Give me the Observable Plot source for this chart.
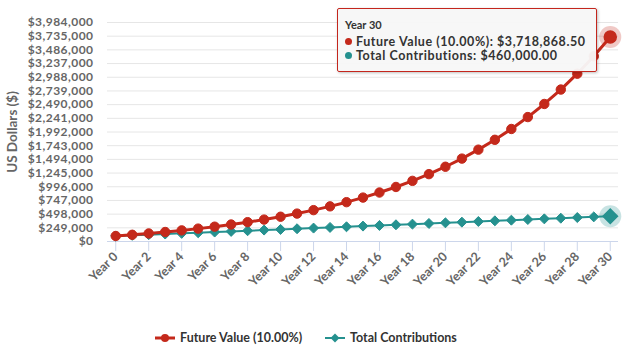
<!DOCTYPE html>
<html>
<head>
<meta charset="utf-8">
<script src="https://cdn.jsdelivr.net/npm/d3@7"></script>
<script src="https://cdn.jsdelivr.net/npm/@observablehq/plot@0.6"></script>
<style>
  html, body { margin: 0; padding: 0; background: #fff; }
  #wrap { position: relative; width: 625px; height: 348px; font-family: Lato, "Open Sans", sans-serif; overflow: hidden; }
  #tip { position: absolute; left: 337px; top: 8px; width: 258px; height: 62px; border: 1px solid #c4261d; background: rgba(247,247,247,0.96); box-shadow: 1px 1px 3px rgba(0,0,0,0.25); border-radius: 2px; color: #333; font-weight: bold; }
  #tip .h { position: absolute; left: 7px; top: 10px; font-size: 11px; line-height: 12px; }
  #tip .r { position: absolute; left: 7px; font-size: 12.5px; line-height: 13px; letter-spacing: 0.55px; white-space: nowrap; }
  #tip .dot { display: inline-block; width: 7px; height: 7px; border-radius: 50%; margin-right: 4px; vertical-align: 1px; }
  #legend { position: absolute; top: 330px; left: 0; width: 625px; font-size: 12.5px; font-weight: bold; color: #333; }
  #legend .item { position: absolute; top: 0; white-space: nowrap; }
  #legend svg { vertical-align: -2px; margin-right: 4px; }
</style>
</head>
<body>
<div id="wrap"></div>
<script>
const years = d3.range(0, 31);
const futureValue = [100000, 122000, 146200, 172820, 202102, 234312.2, 269743.42, 308717.76, 351589.54, 398748.49, 450623.34, 507685.68, 570454.24, 639499.67, 715449.63, 798994.60, 890894.06, 991983.46, 1103181.81, 1225499.99, 1360049.99, 1508054.99, 1670860.49, 1849946.54, 2046941.19, 2263635.31, 2501998.84, 2764198.72, 3052618.59, 3369880.45, 3718868.50];
const contributions = [100000, 112000, 124000, 136000, 148000, 160000, 172000, 184000, 196000, 208000, 220000, 232000, 244000, 256000, 268000, 280000, 292000, 304000, 316000, 328000, 340000, 352000, 364000, 376000, 388000, 400000, 412000, 424000, 436000, 448000, 460000];
const yTicks = d3.range(0, 17).map(i => i * 249000);
const xTicks = d3.range(0, 31, 2);
const seriesNames = ["Future Value (10.00%)", "Total Contributions"];
const colors = ["#c4291b", "#25918f"];

const fv = years.map((y, i) => ({year: y, value: futureValue[i]}));
const tc = years.map((y, i) => ({year: y, value: contributions[i]}));
const last = years.length - 1;

const fmt = d3.format("$,.0f");
const wrap = document.getElementById("wrap");

const chart = Plot.plot({
  width: 625,
  height: 310,
  marginLeft: 107,
  marginRight: 7,
  marginTop: 22,
  marginBottom: 69,
  style: {fontFamily: "Lato, 'Open Sans', sans-serif", fontSize: "12px", fontWeight: "bold", color: "#666", background: "transparent"},
  x: {domain: [-0.5, 30.5], label: null},
  y: {domain: [0, 3984000], label: null},
  marks: [
    Plot.gridY(yTicks, {stroke: "#e6e6e6", strokeOpacity: 1}),
    Plot.axisX({ticks: xTicks, tickFormat: d => "Year " + d, tickRotate: -45, tickSize: 10, tickPadding: 3, stroke: "#ccd6eb", fill: "#666", fontWeight: "bold", fontSize: 12.5, label: null}),
    Plot.ruleY([0], {stroke: "#ccd6eb"}),
    Plot.axisY({ticks: yTicks, tickFormat: fmt, tickSize: 0, tickPadding: 14, fill: "#666", fontWeight: "bold", fontSize: 12, label: "US Dollars ($)", labelAnchor: "center", labelArrow: "none", labelOffset: 100}),
    Plot.dot([fv[last]], {x: "year", y: "value", r: 11, fill: colors[0], fillOpacity: 0.25}),
    Plot.dot([tc[last]], {x: "year", y: "value", r: 11, fill: colors[1], fillOpacity: 0.25}),
    Plot.line(tc, {x: "year", y: "value", stroke: colors[1], strokeWidth: 2}),
    Plot.dot(tc.slice(0, last), {x: "year", y: "value", symbol: "diamond2", r: 4.5, fill: colors[1], stroke: colors[1], strokeWidth: 1}),
    Plot.dot([tc[last]], {x: "year", y: "value", symbol: "diamond2", r: 6.5, fill: colors[1], stroke: colors[1]}),
    Plot.line(fv, {x: "year", y: "value", stroke: colors[0], strokeWidth: 3}),
    Plot.dot(fv.slice(0, last), {x: "year", y: "value", r: 4.7, fill: colors[0], stroke: colors[0], strokeWidth: 1}),
    Plot.dot([fv[last]], {x: "year", y: "value", r: 6, fill: colors[0], stroke: colors[0]})
  ]
});
wrap.appendChild(chart);
chart.style.position = "absolute";
chart.style.left = "0px";
chart.style.top = "0px";
chart.querySelectorAll("[aria-label='y-axis tick label'] text").forEach(t => t.style.letterSpacing = "0.45px");
chart.querySelectorAll("[aria-label='y-axis label']").forEach(t => { t.setAttribute("font-size", "13.5"); t.setAttribute("fill", "#666"); });

const tip = document.createElement("div");
tip.id = "tip";
tip.innerHTML = `<div class="h">Year ${years[last]}</div>
<div class="r" style="top:26px"><span class="dot" style="background:${colors[0]}"></span>${seriesNames[0]}: ${d3.format("$,.2f")(futureValue[last])}</div>
<div class="r" style="top:40px"><span class="dot" style="background:${colors[1]}"></span>${seriesNames[1]}: ${d3.format("$,.2f")(contributions[last])}</div>`;
wrap.appendChild(tip);

const legend = document.createElement("div");
legend.id = "legend";
legend.innerHTML = `<div class="item" style="left:154px"><svg width="22" height="12"><line x1="1" y1="6" x2="21" y2="6" stroke="${colors[0]}" stroke-width="3"/><circle cx="11" cy="6" r="4" fill="${colors[0]}"/></svg>${seriesNames[0]}</div>
<div class="item" style="left:324px"><svg width="22" height="12"><line x1="1" y1="6" x2="21" y2="6" stroke="${colors[1]}" stroke-width="2"/><path d="M11 1.5 L15.5 6 L11 10.5 L6.5 6 Z" fill="${colors[1]}"/></svg>${seriesNames[1]}</div>`;
wrap.appendChild(legend);
</script>
</body>
</html>
